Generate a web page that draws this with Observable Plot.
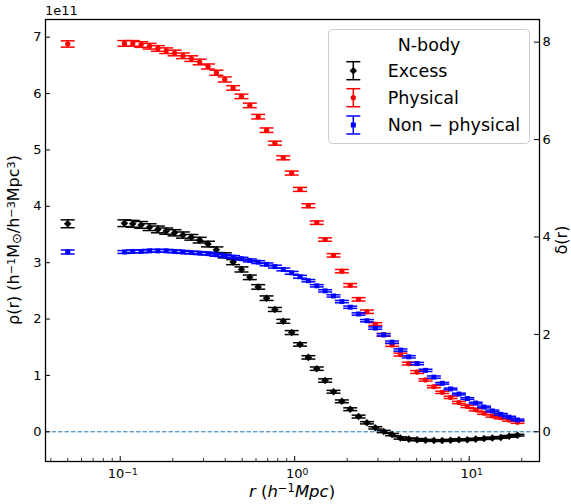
<!DOCTYPE html>
<html><head><meta charset="utf-8">
<script src="https://cdn.jsdelivr.net/npm/d3@7"></script>
<script src="https://cdn.jsdelivr.net/npm/@observablehq/plot@0.6"></script>
<style>body{margin:0;background:#fff;} svg{display:block;}</style>
</head><body><div id="chart"></div>
<script>
// radial bins (first point is the isolated innermost one)
const r = [0.05,
  0.1057,0.1180,0.1318,0.1472,0.1643,0.1835,0.2049,0.2288,0.2555,0.2853,
  0.3186,0.3557,0.3972,0.4436,0.4953,0.5531,0.6176,0.6897,0.7701,0.8600,
  0.9609,1.073,1.198,1.338,1.494,1.669,1.864,2.081,2.324,2.595,
  2.898,3.236,3.614,4.036,4.507,5.032,5.620,6.276,7.008,7.826,
  8.739,9.757,10.90,12.17,13.59,15.18,16.94,18.92];

// density in units of 1e11 h^-1 Msun / (h^-3 Mpc^3)
const excess = [3.69,
  3.70,3.69,3.67,3.63,3.59,3.56,3.53,3.49,3.45,3.40,
  3.33,3.23,3.13,3.01,2.88,2.74,2.57,2.37,2.17,1.96,
  1.76,1.55,1.32,1.12,0.91,0.71,0.54,0.40,0.27,0.16,
  0.07,0.005,-0.05,-0.11,-0.13,-0.14,-0.15,-0.155,-0.155,-0.15,
  -0.14,-0.14,-0.13,-0.12,-0.11,-0.10,-0.08,-0.06];
const excessErr = [0.07,
  0.06,0.06,0.06,0.06,0.06,0.055,0.055,0.055,0.05,0.05,
  0.05,0.05,0.045,0.045,0.045,0.04,0.04,0.04,0.035,0.035,
  0.035,0.03,0.03,0.03,0.03,0.025,0.025,0.025,0.025,0.02,
  0.02,0.02,0.02,0.02,0.02,0.02,0.015,0.015,0.015,0.015,
  0.015,0.015,0.015,0.015,0.015,0.015,0.015,0.015];

const physical = [6.88,
  6.89,6.89,6.87,6.84,6.80,6.76,6.72,6.67,6.62,6.56,
  6.48,6.37,6.25,6.10,5.95,5.79,5.59,5.35,5.12,4.86,
  4.59,4.30,4.01,3.71,3.41,3.13,2.85,2.60,2.35,2.13,
  1.91,1.72,1.54,1.37,1.21,1.06,0.92,0.80,0.70,0.61,
  0.52,0.45,0.39,0.33,0.28,0.25,0.21,0.17];
const physicalErr = [0.056,
  0.05,0.05,0.05,0.05,0.05,0.05,0.05,0.05,0.05,0.05,
  0.045,0.045,0.045,0.04,0.04,0.04,0.04,0.04,0.035,0.035,
  0.035,0.035,0.035,0.03,0.03,0.03,0.03,0.03,0.03,0.03,
  0.025,0.025,0.025,0.025,0.025,0.025,0.02,0.02,0.02,0.02,
  0.02,0.02,0.02,0.02,0.02,0.02,0.02,0.02];

const nonPhysical = [3.19,
  3.19,3.20,3.20,3.21,3.21,3.21,3.20,3.19,3.18,3.17,
  3.16,3.14,3.12,3.10,3.07,3.04,3.01,2.97,2.93,2.88,
  2.82,2.75,2.68,2.59,2.50,2.41,2.31,2.21,2.09,1.97,
  1.84,1.72,1.59,1.45,1.33,1.21,1.09,0.97,0.86,0.76,
  0.67,0.59,0.51,0.44,0.37,0.31,0.26,0.21];
const nonPhysicalErr = [0.035,
  0.025,0.025,0.025,0.025,0.025,0.025,0.025,0.025,0.025,0.025,
  0.025,0.025,0.025,0.025,0.025,0.025,0.025,0.025,0.025,0.025,
  0.025,0.025,0.02,0.02,0.02,0.02,0.02,0.02,0.02,0.02,
  0.02,0.02,0.02,0.02,0.02,0.02,0.02,0.02,0.015,0.015,
  0.015,0.015,0.015,0.015,0.015,0.015,0.015,0.015];

const seriesNames = ["Excess", "Physical", "Non \u2212 physical"];
const seriesColors = ["black", "#ff0000", "#0000ff"];
const xMajorTicks = [0.1, 1, 10];
const xMajorExp = ["\u22121", "0", "1"];
const xMinorTicks = [0.04,0.05,0.06,0.07,0.08,0.09,0.2,0.3,0.4,0.5,0.6,0.7,0.8,0.9,2,3,4,5,6,7,8,9,20];
const yTicks = [0,1,2,3,4,5,6,7];
const deltaTicks = [0,2,4,6,8];
const deltaScale = 0.864; // rho units (1e11) per unit of delta on the right axis

const W = 571, H = 504;
const mt = 19, mr = 32, mb = 43, ml = 45;
const plotW = W - ml - mr, plotH = H - mt - mb;

const capSymbol = {draw(ctx, size) { const w = Math.sqrt(size / Math.PI); ctx.moveTo(-w, 0); ctx.lineTo(w, 0); }};
const diamondSymbol = {draw(ctx, size) { const h = Math.sqrt(size / 2); ctx.moveTo(0, -h); ctx.lineTo(h, 0); ctx.lineTo(0, h); ctx.lineTo(-h, 0); ctx.closePath(); }};

const seriesVals = [excess, physical, nonPhysical];
const seriesErrs = [excessErr, physicalErr, nonPhysicalErr];
const seriesSymbols = [diamondSymbol, "circle", "square"];
const seriesR = [3.0, 2.6, 2.8];

const marks = [
  Plot.ruleY([0], {stroke: "#1f77b4", strokeWidth: 1, strokeDasharray: "4.5,2"})
];
seriesNames.forEach((name, s) => {
  const rows = r.map((rv, i) => ({x: rv, y: seriesVals[s][i], e: seriesErrs[s][i]}));
  const c = seriesColors[s];
  marks.push(
    Plot.ruleX(rows, {x: "x", y1: d => d.y - d.e, y2: d => d.y + d.e, stroke: c, strokeWidth: 1.5}),
    Plot.dot(rows, {x: "x", y: d => d.y + d.e, symbol: capSymbol, r: 7, stroke: c, fill: "none", strokeWidth: 1.5}),
    Plot.dot(rows, {x: "x", y: d => d.y - d.e, symbol: capSymbol, r: 7, stroke: c, fill: "none", strokeWidth: 1.5}),
    Plot.dot(rows, {x: "x", y: "y", symbol: seriesSymbols[s], r: seriesR[s], fill: c, stroke: "none"})
  );
});
marks.push(
  Plot.tickX(xMajorTicks, {x: d => d, insetTop: plotH - 5, stroke: "black", strokeWidth: 1}),
  Plot.tickX(xMinorTicks, {x: d => d, insetTop: plotH - 3, stroke: "black", strokeWidth: 0.8}),
  Plot.tickY(yTicks, {y: d => d, insetRight: plotW - 5, stroke: "black", strokeWidth: 1}),
  Plot.tickY(deltaTicks, {y: d => d * deltaScale, insetLeft: plotW - 5, stroke: "black", strokeWidth: 1}),
  Plot.axisY(yTicks, {anchor: "left", tickSize: 0, tickPadding: 4, tickFormat: d => String(d), label: null}),
  Plot.axisY(deltaTicks.map(d => d * deltaScale), {anchor: "right", tickSize: 0, tickPadding: 3, tickFormat: d => String(Math.round(d / deltaScale)), label: null}),
  Plot.frame({stroke: "black", strokeWidth: 1.3})
);

const chart = Plot.plot({
  width: W, height: H,
  marginTop: mt, marginRight: mr, marginBottom: mb, marginLeft: ml,
  x: {type: "log", domain: [0.0373, 25.3], axis: null},
  y: {domain: [-0.527, 7.314], axis: null},
  style: {fontFamily: "DejaVu Sans", fontSize: "13px", color: "black", background: "white"},
  marks
});
document.getElementById("chart").appendChild(chart);

const svg = d3.select(chart);
const font = "DejaVu Sans";
function richText(parent, parts, size) {
  const t = parent.append("text").attr("font-family", font).attr("font-size", size).attr("fill", "black");
  parts.forEach(p => {
    const sp = t.append("tspan").text(p.t);
    if (p.sup) sp.attr("font-size", size * 0.7).attr("baseline-shift", "38%");
    if (p.sub) sp.attr("font-size", size * 0.8).attr("baseline-shift", "-12%");
    if (p.it) sp.attr("font-style", "italic");
  });
  return t;
}
// x tick labels from scale
const xs = chart.scale("x");
xMajorTicks.forEach((v, i) => {
  const t = richText(svg, [{t: "10"}, {t: xMajorExp[i], sup: true}], 13);
  t.attr("x", xs.apply(v) + 3).attr("y", 478).attr("text-anchor", "middle");
});
svg.append("text").attr("x", ml).attr("y", 15).attr("text-anchor", "start").attr("font-family", font).attr("font-size", 13).attr("fill", "black").text("1e11");
// x label
richText(svg, [{t: "r", it: true}, {t: " ("}, {t: "h", it: true}, {t: "\u22121", sup: true}, {t: "Mpc", it: true}, {t: ")"}], 16.5)
  .attr("x", ml + plotW / 2).attr("y", 497).attr("text-anchor", "middle");
// left y label
richText(svg, [{t: "\u03C1(r) (h"}, {t: "\u22121", sup: true}, {t: "M"}, {t: "\u2299", sub: true}, {t: "/h"}, {t: "\u22123", sup: true}, {t: "Mpc"}, {t: "3", sup: true}, {t: ")"}], 16)
  .attr("transform", `translate(19,${mt + plotH / 2}) rotate(-90)`).attr("text-anchor", "middle");
// right y label
svg.append("text").attr("transform", `translate(561,${mt + plotH / 2}) rotate(-90)`).attr("text-anchor", "middle")
  .attr("dominant-baseline", "central").attr("font-family", font).attr("font-size", 16).attr("fill", "black")
  .text("\u03B4(r)");

// legend
const lg = svg.append("g");
lg.append("rect").attr("x", 328.5).attr("y", 29.5).attr("width", 201).attr("height", 114).attr("rx", 4)
  .attr("fill", "white").attr("fill-opacity", 0.8).attr("stroke", "#cccccc").attr("stroke-width", 1);
lg.append("text").attr("x", 429).attr("y", 51).attr("text-anchor", "middle").attr("font-family", font)
  .attr("font-size", 17.5).attr("fill", "black").text("N-body");
const legY = [70.7, 97.7, 125];
const legSym = [d3.symbol(diamondSymbol, Math.PI * 9), d3.symbol(d3.symbolCircle, Math.PI * 2.6 * 2.6), d3.symbol(d3.symbolSquare, Math.PI * 2.8 * 2.8)];
seriesNames.forEach((name, s) => {
  const y = legY[s], x = 353.3, c = seriesColors[s];
  lg.append("line").attr("x1", x).attr("x2", x).attr("y1", y - 9).attr("y2", y + 9).attr("stroke", c).attr("stroke-width", 1.5);
  lg.append("line").attr("x1", x - 7).attr("x2", x + 7).attr("y1", y - 9).attr("y2", y - 9).attr("stroke", c).attr("stroke-width", 1.5);
  lg.append("line").attr("x1", x - 7).attr("x2", x + 7).attr("y1", y + 9).attr("y2", y + 9).attr("stroke", c).attr("stroke-width", 1.5);
  lg.append("path").attr("d", legSym[s]()).attr("transform", `translate(${x},${y})`).attr("fill", c);
  lg.append("text").attr("x", 387.7).attr("y", y).attr("text-anchor", "start").attr("dominant-baseline", "central").attr("font-family", font)
    .attr("font-size", 17.5).attr("fill", "black").text(name);
});
</script>
</body></html>
